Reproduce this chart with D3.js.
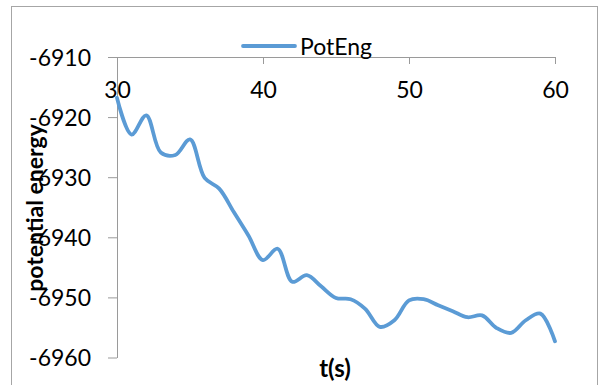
<!DOCTYPE html>
<html><head><meta charset="utf-8">
<script src="https://cdn.jsdelivr.net/npm/d3@7"></script>
<style>body{margin:0;background:#fff}svg{display:block}</style>
</head><body>
<svg id="c" width="600" height="385"></svg>
<script>
const time = [30,31,32,33,34,35,36,37,38,39,40,41,42,43,44,45,46,47,48,49,50,51,52,53,54,55,56,57,58,59,60];
const potEng = [-6916.8,-6922.9,-6919.7,-6925.9,-6926.3,-6923.7,-6930.1,-6931.9,-6935.8,-6939.7,-6943.8,-6941.9,-6947.4,-6946.3,-6948.2,-6950.1,-6950.3,-6951.9,-6954.9,-6953.8,-6950.5,-6950.3,-6951.3,-6952.3,-6953.3,-6953.0,-6955.1,-6955.9,-6953.8,-6952.7,-6957.3];
const xTicks = [30,40,50,60];
const yTicks = [-6910,-6920,-6930,-6940,-6950,-6960];
const seriesName = "PotEng";
const xTitle = "t(s)";
const yTitle = "potential energy";

const svg = d3.select("#c");
const font = "Lato, 'Open Sans', sans-serif";
const axisCol = "#9a9a9a";

svg.append("rect").attr("x",11.5).attr("y",6.5).attr("width",586).attr("height",390)
  .attr("fill","none").attr("stroke","#a6a6a6").attr("stroke-width",1);

const x = d3.scaleLinear().domain([30,60]).range([117,555]);
const y = d3.scaleLinear().domain([-6960,-6910]).range([357.5,57]);

// y axis
const ya = svg.append("g").attr("transform","translate(117,0)")
  .call(d3.axisLeft(y).tickValues(yTicks).tickSize(9).tickSizeOuter(0).tickFormat(d3.format("d")));
ya.select(".domain").attr("stroke",axisCol);
ya.selectAll(".tick line").attr("stroke",axisCol);
ya.selectAll(".tick text").attr("x",-26).attr("dy","0.36em")
  .attr("font-family",font).attr("font-size",23).attr("fill","#000").text(d=>"-"+Math.abs(d));

// x axis at top (crossing at -6910)
const xa = svg.append("g").attr("transform","translate(0,57)")
  .call(d3.axisBottom(x).tickValues(xTicks).tickSize(7).tickSizeOuter(0).tickFormat(d3.format("d")));
xa.select(".domain").attr("stroke",axisCol);
xa.selectAll(".tick line").attr("stroke",axisCol);
xa.selectAll(".tick text").attr("y",41).attr("dy",0)
  .attr("font-family",font).attr("font-size",23).attr("fill","#000");

// line
const line = d3.line().x((d,i)=>x(time[i])).y(d=>y(d)).curve(d3.curveCatmullRom.alpha(0.5));
svg.append("path").datum(potEng).attr("d",line).attr("fill","none")
  .attr("stroke","#5B9BD5").attr("stroke-width",3.8).attr("stroke-linejoin","round").attr("stroke-linecap","round");

// legend
svg.append("line").attr("x1",243).attr("x2",295).attr("y1",46).attr("y2",46)
  .attr("stroke","#5B9BD5").attr("stroke-width",3.8).attr("stroke-linecap","round");
svg.append("text").attr("x",300).attr("y",55).attr("font-family",font).attr("font-size",23)
  .attr("fill","#000").text(seriesName);

// titles
svg.append("text").attr("x",335).attr("y",377).attr("text-anchor","middle")
  .attr("font-family",font).attr("font-weight","bold").attr("font-size",24).attr("fill","#000").text(xTitle);
svg.append("text").attr("transform","translate(43,208) rotate(-90)").attr("text-anchor","middle")
  .attr("font-family",font).attr("font-weight","bold").attr("font-size",23).attr("fill","#000").text(yTitle);
</script>
</body></html>
